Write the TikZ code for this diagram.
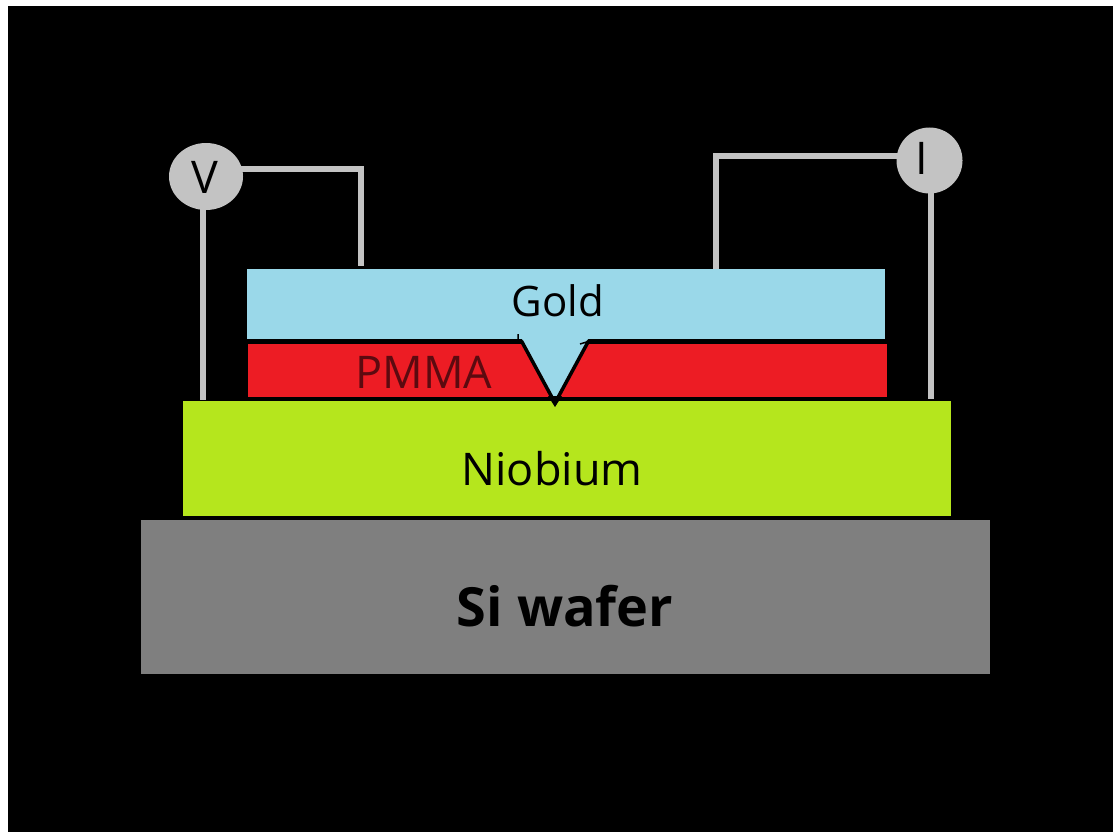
\documentclass[tikz,border=0pt]{standalone}
\usepackage{fontspec}
\setmainfont{Open Sans}
\usetikzlibrary{shapes.geometric}
\definecolor{goldblue}{HTML}{9AD8E9}
\definecolor{pmmared}{HTML}{ED1C24}
\definecolor{niobgreen}{HTML}{B5E61D}
\definecolor{wafergrey}{HTML}{7F7F7F}
\definecolor{wiregrey}{HTML}{C3C3C3}
\definecolor{pmmatext}{HTML}{5C0A10}
\tikzset{
  layer/.style={anchor=north west, inner sep=0pt, outer sep=0pt},
  wire/.style={draw=wiregrey, line width=6pt, shorten <=-3pt},
  meter/.style={fill=wiregrey, inner sep=0pt, outer sep=0pt},
  tag/.style={font=\fontsize{45}{54}\selectfont, inner sep=0pt},
  edge/.style={draw=black, line width=3.5pt, line join=miter},
}
\begin{document}
\begin{tikzpicture}[x=1pt,y=-1pt]
    \useasboundingbox (0,0) rectangle (1113,832);
    \fill[white] (0,0) rectangle (1113,832);
    \fill[black] (8,6) rectangle (1113,832);
    % stack of layers
    \foreach \n/\x/\y/\w/\h/\c in {wafer/141/520/849/154/wafergrey,
                                   niobium/183/401/768/115/niobgreen,
                                   pmma/248/344/639/53/pmmared,
                                   gold/247/269/638/70/goldblue}
      { \node[layer, fill=\c, minimum width=\w pt, minimum height=\h pt] (\n) at (\x,\y) {}; }
    % tip through the resist
    \fill[goldblue] (522,339) -- (588,339) -- (555,400) -- cycle;
    \draw[edge] (248,342) -- (522,342) -- (555,403) -- (588,342) -- (887,342);
    \draw[edge] (248,398.5) -- (887,398.5);
    \fill[black] (548,396) -- (562,396) -- (555,407) -- cycle;
    \draw[black, line width=1.5pt] (518,334) -- (518,342) (580,344) -- (590,341);
    % meters
    \node[meter, ellipse, minimum width=74pt, minimum height=67pt] (vmeter) at (206,176.5) {};
    \node[meter, circle, minimum size=66pt] (imeter) at (929.5,160.5) {};
    \coordinate (vtop) at (361,266);
    \coordinate (itop) at (716,269);
    \coordinate (vbot) at (203,400);
    \coordinate (ibot) at (931,399);
    \draw[wire] (vmeter.east |- 0,169) -- (vtop |- 0,169) -- (vtop);
    \draw[wire] (imeter.west |- 0,156) -- (itop |- 0,156) -- (itop);
    \draw[wire] (vbot |- vmeter.south) -- (vbot);
    \draw[wire] (ibot |- imeter.south) -- (ibot);
    % labels
    \node[tag] (vlabel) at (205,177) {V};
    \node[tag] (ilabel) at (922,158) {I};
    \node[tag, font=\fontsize{42}{50}\selectfont] (goldlabel) at (558,301) {Gold};
    \node[tag, text=pmmatext] (pmmalabel) at (424,372) {PMMA};
    \node[tag] (nioblabel) at (552,469) {Niobium};
    \node[tag, font=\fontsize{54}{64}\selectfont\bfseries] (waferlabel) at (565,606) {Si wafer};
  \end{tikzpicture}
\end{document}
